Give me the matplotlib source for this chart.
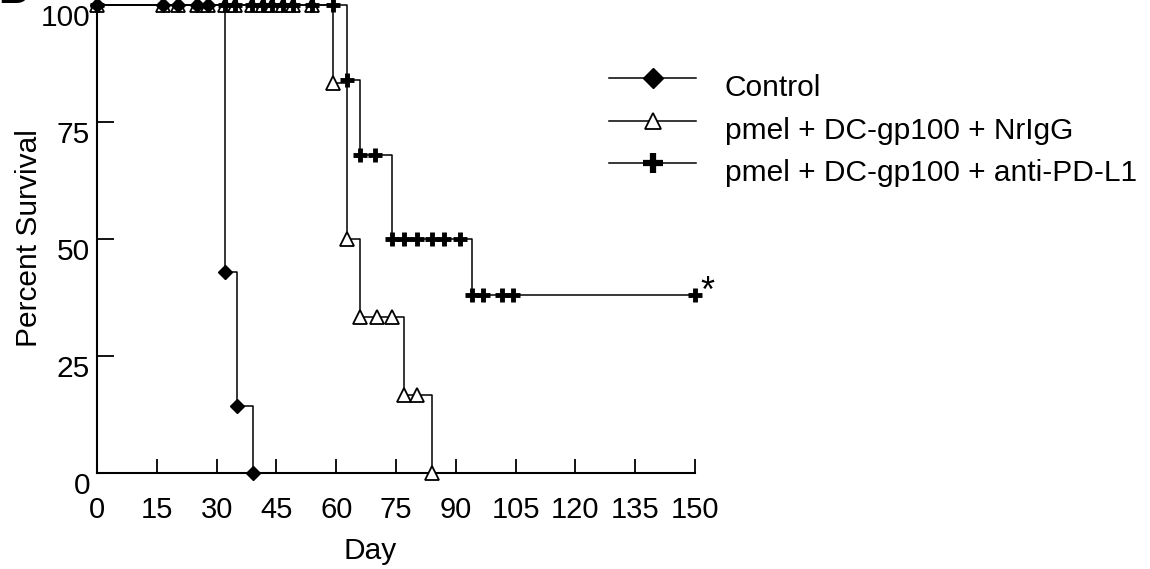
import matplotlib
matplotlib.use("Agg")
import matplotlib.pyplot as plt
from matplotlib.transforms import ScaledTranslation
from matplotlib.lines import Line2D

plt.rcParams['font.family'] = ['Liberation Sans', 'DejaVu Sans']

# ---- data ----
x_ticks = [0, 15, 30, 45, 60, 75, 90, 105, 120, 135, 150]
y_ticks = [0, 25, 50, 75, 100]

labels = ["Control", "pmel + DC-gp100 + NrIgG", "pmel + DC-gp100 + anti-PD-L1"]

# step curves (day of change, survival after change)
ctrl_days = [0, 32.1, 35.1, 39.2]
ctrl_surv = [100, 42.9, 14.3, 0]
ctrl_mark_days = [0, 16.5, 20.4, 25, 27.8, 32.1, 35.1, 39.2]
ctrl_mark_surv = [100, 100, 100, 100, 100, 42.9, 14.3, 0]

igg_days = [0, 59.2, 62.8, 66.0, 77.1, 84.0]
igg_surv = [100, 83.3, 50, 33.3, 16.7, 0]
igg_mark_days = [0, 16.5, 20.4, 25, 27.8, 32, 34.6, 39, 41.6, 44, 46.7, 49.2, 54,
                 59.2, 62.8, 66.0, 70.2, 74.0, 77.1, 80.2, 84.0]
igg_mark_surv = [100] * 13 + [83.3, 50, 33.3, 33.3, 33.3, 16.7, 16.7, 0]

pd_days = [0, 62.8, 66.0, 74.0, 94.0, 150]
pd_surv = [100, 84, 68, 50, 38, 38]
pd_mark_days = [0, 32, 34.6, 39, 41.6, 44, 46.7, 49.2, 54, 59.2,
                62.8, 66.0, 69.8, 74.0, 77.0, 80.3, 84.0, 87.0, 91.0,
                94.0, 96.8, 101.6, 104.3, 150]
pd_mark_surv = [100] * 10 + [84, 68, 68] + [50] * 6 + [38] * 5

# ---- figure ----
W, H, DPI = 1150, 569, 100
fig = plt.figure(figsize=(W / DPI, H / DPI), dpi=DPI)
ax_l, ax_r, ax_b, ax_t = 97, 695, 473, 5
ax = fig.add_axes([ax_l / W, 1 - ax_b / H, (ax_r - ax_l) / W, (ax_b - ax_t) / H])

lw = 1.1
ax.step(ctrl_days, ctrl_surv, where='post', color='black', lw=lw, clip_on=False)
ax.step(igg_days, igg_surv, where='post', color='black', lw=lw, clip_on=False)
ax.step(pd_days, pd_surv, where='post', color='black', lw=lw, clip_on=False)

ax.plot(igg_mark_days, igg_mark_surv, ls='none', marker='^', ms=9.5,
        mfc='white', mec='black', mew=1.3, clip_on=False, zorder=3)
ax.plot(ctrl_mark_days, ctrl_mark_surv, ls='none', marker='D', ms=7,
        mfc='black', mec='black', clip_on=False, zorder=4)
ax.plot(pd_mark_days, pd_mark_surv, ls='none', marker='+', ms=10,
        mec='black', mew=3.5, clip_on=False, zorder=5)

ax.text(153.2, 36.5, '*', fontsize=26, ha='center', va='baseline')

ax.set_xlim(0, 150)
ax.set_ylim(0, 100)
ax.set_xticks(x_ticks)
ax.set_yticks(y_ticks)
ax.set_xticklabels([str(v) for v in x_ticks])
ax.set_yticklabels([str(v) for v in y_ticks])

for s in ['top', 'right']:
    ax.spines[s].set_visible(False)
for s in ['left', 'bottom']:
    ax.spines[s].set_linewidth(1.5)

ax.tick_params(axis='x', direction='in', length=10, width=1.3, labelsize=21, pad=16.5)
ax.tick_params(axis='y', direction='in', length=12, width=1.3, labelsize=21.5, pad=5)

for lab in ax.get_yticklabels():
    lab.set_transform(lab.get_transform() + ScaledTranslation(0, -10 / DPI, fig.dpi_scale_trans))

ax.set_xlabel('Day', fontsize=21.5)
ax.xaxis.set_label_coords((370 - ax_l) / (ax_r - ax_l), (ax_b - 537) / (ax_b - ax_t))
ax.set_ylabel('Percent Survival', fontsize=21.5)
ax.yaxis.set_label_coords((43 - ax_l) / (ax_r - ax_l), (ax_b - 238) / (ax_b - ax_t))

# ---- legend drawn by hand (handles at left, text slightly lower) ----
leg_rows = [78, 121, 163]
leg_styles = [
    dict(marker='D', ms=10, mfc='black', mec='black'),
    dict(marker='^', ms=12, mfc='white', mec='black', mew=1.3),
    dict(marker='+', ms=15, mec='black', mew=4.5),
]
for row, lab, sty in zip(leg_rows, labels, leg_styles):
    yf = 1 - row / H
    fig.add_artist(Line2D([609 / W, 696 / W], [yf, yf], color='black', lw=lw,
                          transform=fig.transFigure))
    fig.add_artist(Line2D([653 / W], [yf], ls='none', transform=fig.transFigure, **sty))
    fig.text(725 / W, 1 - (row + 10) / H, lab, fontsize=21.5, ha='left', va='center')

fig.text(-2 / W, 1 - 3 / H, 'B', fontsize=30, fontweight='bold', ha='left', va='baseline')

fig.savefig('out.png', dpi=DPI)
